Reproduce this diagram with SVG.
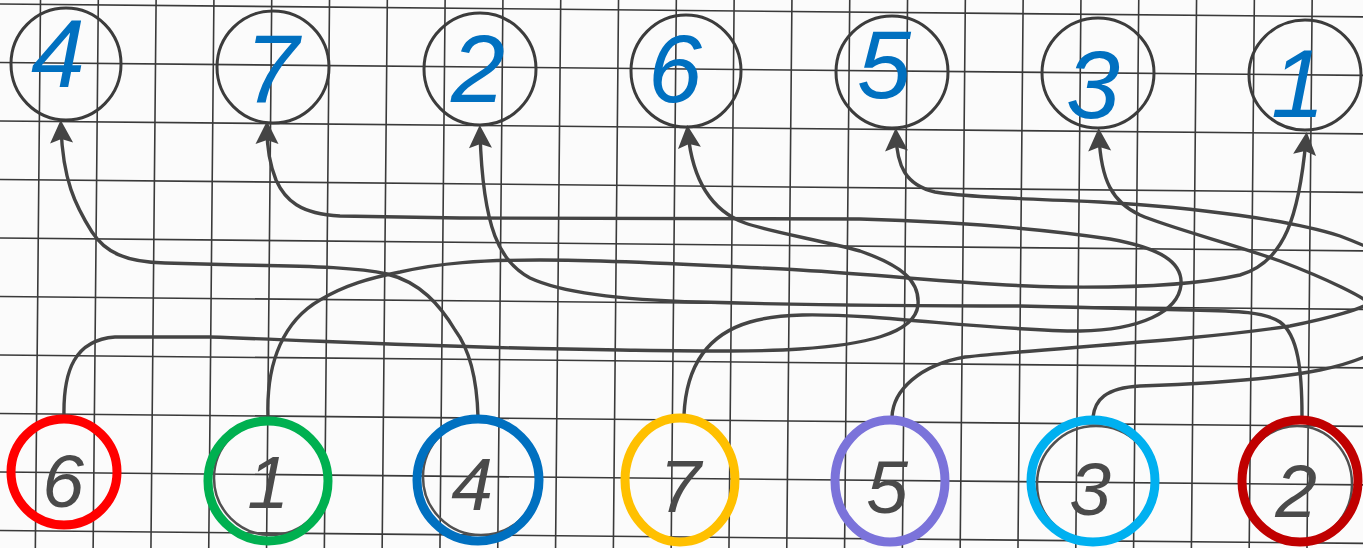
<svg xmlns="http://www.w3.org/2000/svg" width="1363" height="548" viewBox="0 0 1363 548">
<style>
.grid{fill:none;stroke:#3a3a3a;stroke-width:1.6}
.conn{fill:none;stroke:#444;stroke-width:3.4;stroke-linecap:round;stroke-linejoin:round;marker-end:url(#arr)}
.top{fill:none;stroke:#3c3c3c;stroke-width:3}
.topnum{font-family:"Liberation Sans",Arial,sans-serif;font-style:italic;font-size:97px;fill:#0070C0;text-anchor:middle}
.botnum{font-family:"Liberation Sans",Arial,sans-serif;font-style:italic;font-size:75px;fill:#4a4a4a;text-anchor:middle}
.bot{fill:none;stroke-width:9}
.shadow{fill:none;stroke:#505050;stroke-width:2.5}
</style>
<defs>
<marker id="arr" markerUnits="userSpaceOnUse" viewBox="-24 -12 26 24" markerWidth="26" markerHeight="24" refX="-8" refY="0" orient="auto" overflow="visible">
<path d="M0,0 L-23,-11.5 L-19,0 L-23,11.5 Z" fill="#444"/>
</marker>
</defs>
<rect width="1363" height="548" fill="#fbfbfb"/>
<g id="grid" transform="rotate(0.54)">
<path class="grid" d="M-30,4H1400M-30,62.5H1400M-30,121H1400M-30,179.5H1400M-30,238H1400M-30,296.5H1400M-30,355H1400M-30,413.5H1400M-30,472H1400M-30,530.5H1400"/>
<path class="grid" d="M-17.3,-30V600M40.5,-30V600M98.3,-30V600M156.1,-30V600M213.9,-30V600M271.7,-30V600M329.5,-30V600M387.3,-30V600M445.1,-30V600M502.9,-30V600M560.7,-30V600M618.5,-30V600M676.3,-30V600M734.1,-30V600M791.9,-30V600M849.7,-30V600M907.5,-30V600M965.3,-30V600M1023.1,-30V600M1080.9,-30V600M1138.7,-30V600M1196.5,-30V600M1254.3,-30V600M1312.1,-30V600M1369.9,-30V600"/>
</g>
<g id="connectors">
<path id="c-4" class="conn" d="M478,417 C477,380 470,350 455,330 C440,305 420,282 387,274 C360,268 320,266 240,265 L165,263 C125,262 105,252 92,232 C75,205 63,180 61,128"/>
<path id="c-1" class="conn" d="M268,417 C266,360 285,320 320,300 C345,285 370,278 400,272 C440,263 480,260 540,260 C620,260 700,265 800,270 C900,276 980,286 1060,287 C1140,288 1200,284 1240,275 C1285,262 1299,215 1306,140"/>
<path id="c-2" class="conn" d="M1302,417 C1302,370 1298,335 1280,322 C1265,312 1240,311 1190,310 L1020,306 C900,306 800,305 700,302 C620,300 560,292 530,278 C500,262 483,230 480,133"/>
<path id="c-6" class="conn" d="M64,417 C63,370 75,340 115,337 L210,337 C350,342 450,348 620,350 C700,351 760,352 800,349 C860,345 915,335 918,305 C920,280 900,265 860,251 C820,240 770,232 745,223 C715,212 693,185 688,133"/>
<path id="c-7" class="conn" d="M684,415 C686,370 705,335 750,322 C780,313 820,314 870,317 C950,323 1020,331 1080,331 C1140,330 1178,312 1181,285 C1183,262 1160,248 1110,239 C1050,230 960,222 860,219 L460,218 L340,216 C300,214 285,200 276,180 C270,165 267,150 267,129"/>
<path id="c-5-3" class="conn" d="M892,417 C893,390 920,365 965,357 C1050,348 1200,340 1290,326 C1330,318 1365,308 1368,303 C1365,298 1330,280 1280,261 C1230,243 1170,228 1140,215 C1112,202 1101,180 1099,136"/>
<path id="c-3-5" class="conn" d="M1093,417 C1095,400 1105,388 1140,386 C1200,384 1270,380 1320,370 C1380,358 1420,330 1420,300 C1420,270 1390,255 1340,236 C1290,220 1200,208 1100,202 C1000,198 960,196 935,192 C905,185 897,165 896,136"/>
</g>
<g id="top-4"><ellipse class="top" cx="66" cy="64" rx="55" ry="56"/><text class="topnum" x="58" y="87">4</text></g>
<g id="top-7"><ellipse class="top" cx="273" cy="67" rx="56" ry="56"/><text class="topnum" x="272" y="102">7</text></g>
<g id="top-2"><ellipse class="top" cx="480" cy="69" rx="56" ry="56"/><text class="topnum" x="478" y="102">2</text></g>
<g id="top-6"><ellipse class="top" cx="686" cy="71" rx="55" ry="56"/><text class="topnum" x="675" y="102">6</text></g>
<g id="top-5"><ellipse class="top" cx="892" cy="72" rx="56" ry="56"/><text class="topnum" x="884" y="98">5</text></g>
<g id="top-3"><ellipse class="top" cx="1098" cy="73" rx="56" ry="55"/><text class="topnum" x="1093" y="118">3</text></g>
<g id="top-1"><ellipse class="top" cx="1305" cy="75" rx="56" ry="55"/><text class="topnum" x="1298" y="117">1</text></g>
<g id="bottom-6"><ellipse class="bot" stroke="#FF0000" cx="64" cy="472" rx="53" ry="53"/><text class="botnum" x="63" y="507">6</text></g>
<g id="bottom-1"><ellipse class="shadow" cx="271" cy="478" rx="57" ry="57"/><ellipse class="bot" stroke="#00B050" cx="268" cy="481" rx="60" ry="60"/><text class="botnum" x="268" y="508">1</text></g>
<g id="bottom-4"><ellipse class="shadow" cx="481" cy="477" rx="58" ry="58"/><ellipse class="bot" stroke="#0070C0" cx="478" cy="480" rx="61" ry="61"/><text class="botnum" x="472" y="510">4</text></g>
<g id="bottom-7"><ellipse class="bot" stroke="#FFC000" cx="680" cy="480" rx="55" ry="62"/><text class="botnum" x="680" y="512">7</text></g>
<g id="bottom-5"><ellipse class="bot" stroke="#7B73DA" cx="890" cy="481" rx="55" ry="61"/><text class="botnum" x="887" y="513">5</text></g>
<g id="bottom-3"><ellipse class="shadow" cx="1096" cy="484" rx="59" ry="58"/><ellipse class="bot" stroke="#00B0F0" cx="1093" cy="481" rx="62" ry="61"/><text class="botnum" x="1090" y="515">3</text></g>
<g id="bottom-2"><ellipse class="shadow" cx="1297" cy="484" rx="55" ry="58"/><ellipse class="bot" stroke="#C00000" cx="1300" cy="481" rx="58" ry="61"/><text class="botnum" x="1296" y="517">2</text></g>
</svg>
